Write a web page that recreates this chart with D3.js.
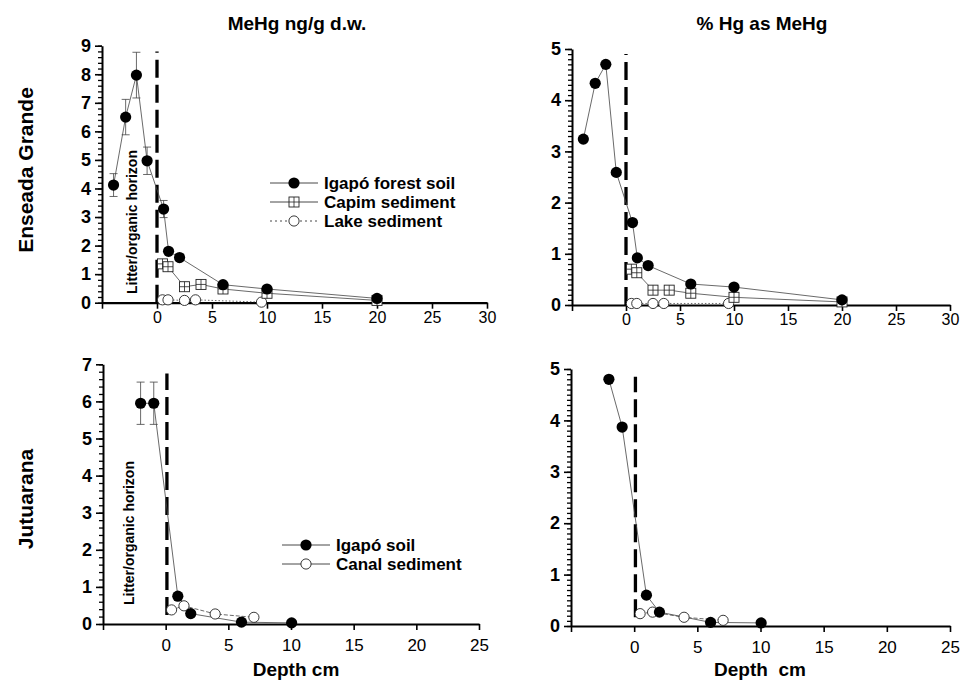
<!DOCTYPE html>
<html>
<head>
<meta charset="utf-8">
<script src="https://cdn.jsdelivr.net/npm/d3@7"></script>
<style>
  body { margin: 0; background: #fff; }
  text { font-family: "Liberation Sans", Arial, sans-serif; fill: #000; }
</style>
</head>
<body>
<div class="chart"></div>
<script>
// ---- data (depth in cm, negative = litter/organic horizon) ----
// Enseada Grande
var egSoilDepth = [-3.95, -2.85, -1.87, -0.9, 0.6, 1.05, 2.05, 6, 10, 20];
var egSoilMehg = [4.12, 6.5, 7.97, 4.97, 3.28, 1.8, 1.58, 0.63, 0.48, 0.15];
var egSoilMehgErr = [0.4, 0.62, 0.8, 0.48, 0.3, 0, 0, 0, 0, 0];
var egSoilPct = [3.24, 4.33, 4.7, 2.59, 1.61, 0.92, 0.77, 0.41, 0.35, 0.1];

var egCapimDepth = [0.5, 1.0, 2.5, 4.0, 6.0, 10.0, 20.0];
var egCapimMehg = [1.36, 1.26, 0.56, 0.64, 0.48, 0.33, 0.08];
var egCapimPct = [0.7, 0.63, 0.29, 0.29, 0.23, 0.15, 0.06];

var egLakeDepth = [0.5, 1.0, 2.5, 3.5, 9.5];
var egLakeMehg = [0.1, 0.1, 0.08, 0.1, 0.02];
var egLakePct = [0.03, 0.03, 0.03, 0.03, 0.03];

// Jutuarana
var juSoilDepth = [-2.0, -0.95, 0.97, 2.0, 6.05, 10.05];
var juSoilMehg = [5.95, 5.95, 0.75, 0.28, 0.05, 0.03];
var juSoilMehgErr = [0.57, 0.57, 0, 0, 0, 0];
var juSoilPct = [4.8, 3.87, 0.6, 0.27, 0.07, 0.06];

var juCanalDepth = [0.47, 1.46, 3.95, 7.04];
var juCanalMehg = [0.38, 0.49, 0.27, 0.18];
var juCanalPct = [0.24, 0.27, 0.17, 0.11];

// litter / sediment boundary line: [x, yBottom, yTop] in data units
var egDividerMehg = [0, 0, 8.8];
var egDividerPct = [0, 0, 4.9];
var juDividerMehg = [0.1, 0.24, 6.75];
var juDividerPct = [0.1, 0.17, 4.85];

var colTitles = ["MeHg ng/g d.w.", "% Hg as MeHg"];
var rowTitles = ["Enseada Grande", "Jutuarana"];
var legendTop = ["Igapó forest soil", "Capim sediment", "Lake sediment"];
var legendBottom = ["Igapó soil", "Canal sediment"];
var horizonLabel = "Litter/organic horizon";

var svg = d3.select(".chart")
  .append("svg")
  .attr("width", 963)
  .attr("height", 681);

function zip(xs, ys, es) {
  return xs.map(function (d, i) { return { x: d, y: ys[i], e: es ? es[i] : 0 }; });
}

// marker drawing
function drawMarkers(g, data, x, y, kind) {
  var m = g.selectAll(null).data(data).enter().append("g")
    .attr("transform", d => `translate(${x(d.x)},${y(d.y)})`);
  if (kind === "filled") {
    m.append("circle").attr("r", 5.6).attr("fill", "#000");
  } else if (kind === "open") {
    m.append("circle").attr("r", 5.1).attr("fill", "#fff").attr("stroke", "#222").attr("stroke-width", 0.9);
  } else {
    m.append("rect").attr("x", -5).attr("y", -5).attr("width", 10).attr("height", 10)
      .attr("fill", "#fff").attr("stroke", "#222").attr("stroke-width", 0.9);
    m.append("path").attr("d", "M0,-5V5M-5,0H5").attr("stroke", "#222").attr("stroke-width", 0.8);
  }
}

function drawPanel(p) {
  var g = svg.append("g");
  var x = d3.scaleLinear().domain(p.xDomain).range(p.xRange);
  var y = d3.scaleLinear().domain(p.yDomain).range(p.yRange);

  // minor y ticks
  var minor = g.append("g")
    .attr("transform", `translate(${p.xRange[0]},0)`)
    .call(d3.axisLeft(y)
      .tickValues(d3.range(0, p.yDomain[1] + 1e-6, p.yMinor))
      .tickSize(4).tickFormat("").tickSizeOuter(0));
  minor.select(".domain").remove();
  minor.selectAll("line").attr("stroke", "#000").attr("stroke-width", 1.3);

  // major y axis
  var ya = g.append("g")
    .attr("transform", `translate(${p.xRange[0]},0)`)
    .call(d3.axisLeft(y)
      .tickValues(d3.range(0, p.yDomain[1] + 1e-6, 1))
      .tickFormat(d3.format("d"))
      .tickSize(7).tickPadding(4).tickSizeOuter(0));
  ya.attr("font-family", null).attr("font-size", null);
  ya.select(".domain").attr("stroke-width", 2);
  ya.selectAll("line").attr("stroke-width", 1.6);
  ya.selectAll("text").attr("font-size", 18).attr("font-weight", "bold");

  // x axis
  var xa = g.append("g")
    .attr("transform", `translate(0,${y(0)})`)
    .call(d3.axisBottom(x)
      .tickValues(d3.range(p.xDomain[0], p.xDomain[1] + 1e-6, 5))
      .tickSize(6).tickPadding(p.xPad).tickSizeOuter(0)
      .tickFormat(d => d < 0 ? "" : d));
  xa.attr("font-family", null).attr("font-size", null);
  xa.select(".domain").attr("stroke-width", 2.2);
  xa.selectAll("line").attr("stroke-width", 1.6);
  xa.selectAll("text").attr("font-size", p.xFont);

  // dashed boundary
  g.append("line")
    .attr("x1", x(p.divider[0])).attr("x2", x(p.divider[0]))
    .attr("y1", y(p.divider[1])).attr("y2", y(p.divider[2]))
    .attr("stroke", "#000").attr("stroke-width", 3.3)
    .attr("stroke-dasharray", "18,7");

  var line = d3.line().x(d => x(d.x)).y(d => y(d.y));

  p.series.forEach(function (s) {
    g.append("path").datum(s.data)
      .attr("d", line)
      .attr("fill", "none")
      .attr("stroke", "#444")
      .attr("stroke-width", 0.8)
      .attr("stroke-dasharray", s.dash || null);
    // error bars
    s.data.filter(d => d.e > 0).forEach(function (d) {
      var cx = x(d.x);
      g.append("path")
        .attr("d", `M${cx},${y(d.y - d.e)}V${y(d.y + d.e)}M${cx - 4},${y(d.y + d.e)}H${cx + 4}M${cx - 4},${y(d.y - d.e)}H${cx + 4}`)
        .attr("stroke", "#444").attr("stroke-width", 0.8).attr("fill", "none");
    });
  });
  p.series.forEach(function (s) { drawMarkers(g, s.data, x, y, s.marker); });
}

var panels = [
  {
    xDomain: [-5, 30], xRange: [102, 487], yDomain: [0, 9], yRange: [302.7, 45.7],
    yMinor: 0.2, xFont: 16, xPad: 3, divider: egDividerMehg,
    series: [
      { data: zip(egLakeDepth, egLakeMehg), marker: "open", dash: "1.5,2" },
      { data: zip(egCapimDepth, egCapimMehg), marker: "square" },
      { data: zip(egSoilDepth, egSoilMehg, egSoilMehgErr), marker: "filled" }
    ]
  },
  {
    xDomain: [-5, 30], xRange: [572, 950], yDomain: [0, 5], yRange: [305, 49],
    yMinor: 0.1, xFont: 16, xPad: 3, divider: egDividerPct,
    series: [
      { data: zip(egLakeDepth, egLakePct), marker: "open", dash: "1.5,2" },
      { data: zip(egCapimDepth, egCapimPct), marker: "square" },
      { data: zip(egSoilDepth, egSoilPct), marker: "filled" }
    ]
  },
  {
    xDomain: [-5, 25], xRange: [103, 479], yDomain: [0, 7], yRange: [624, 364.3],
    yMinor: 0.2, xFont: 17, xPad: 9, divider: juDividerMehg,
    series: [
      { data: zip(juCanalDepth, juCanalMehg), marker: "open", dash: "4,2" },
      { data: zip(juSoilDepth, juSoilMehg, juSoilMehgErr), marker: "filled" }
    ]
  },
  {
    xDomain: [-5, 25], xRange: [571, 950], yDomain: [0, 5], yRange: [626, 369],
    yMinor: 0.1, xFont: 17, xPad: 9, divider: juDividerPct,
    series: [
      { data: zip(juCanalDepth, juCanalPct), marker: "open", dash: "4,2" },
      { data: zip(juSoilDepth, juSoilPct), marker: "filled" }
    ]
  }
];

panels.forEach(drawPanel);

// column titles
svg.selectAll(".coltitle").data(colTitles).enter().append("text")
  .attr("x", (d, i) => [297, 762][i]).attr("y", 30)
  .attr("text-anchor", "middle").attr("font-size", 19).attr("font-weight", "bold")
  .text(d => d);

// row titles
svg.selectAll(".rowtitle").data(rowTitles).enter().append("text")
  .attr("transform", (d, i) => `translate(33,${[170, 499][i]}) rotate(-90)`)
  .attr("text-anchor", "middle").attr("font-size", 21).attr("font-weight", "bold")
  .text(d => d);

// horizon labels
[222, 533].forEach(function (cy, i) {
  svg.append("text")
    .attr("transform", `translate(${[137, 134][i]},${cy}) rotate(-90)`)
    .attr("text-anchor", "middle").attr("font-size", 14).attr("font-weight", "bold")
    .text(horizonLabel);
});

// x axis titles
svg.append("text").attr("x", 296).attr("y", 676).attr("text-anchor", "middle")
  .attr("font-size", 19).attr("font-weight", "bold").text("Depth cm");
svg.append("text").attr("x", 760).attr("y", 676).attr("text-anchor", "middle")
  .attr("font-size", 19).attr("font-weight", "bold")
  .style("white-space", "pre").text("Depth  cm");

// legends
function legend(labels, kinds, dashes, x0, ys) {
  labels.forEach(function (lab, i) {
    var cy = ys[i] - 6;
    svg.append("line").attr("x1", x0).attr("x2", x0 + 48).attr("y1", cy).attr("y2", cy)
      .attr("stroke", "#333").attr("stroke-width", 0.9).attr("stroke-dasharray", dashes[i]);
    var lx = d3.scaleLinear().domain([0, 1]).range([x0 + 24, x0 + 25]);
    var ly = d3.scaleLinear().domain([0, 1]).range([cy, cy - 1]);
    drawMarkers(svg.append("g"), [{ x: 0, y: 0 }], lx, ly, kinds[i]);
    svg.append("text").attr("x", x0 + 54).attr("y", ys[i])
      .attr("font-size", 17).attr("font-weight", "bold").text(lab);
  });
}
legend(legendTop, ["filled", "square", "open"], [null, null, "2,3"], 270, [189, 208, 227]);
legend(legendBottom, ["filled", "open"], [null, null], 282, [551, 570]);
</script>
</body>
</html>
